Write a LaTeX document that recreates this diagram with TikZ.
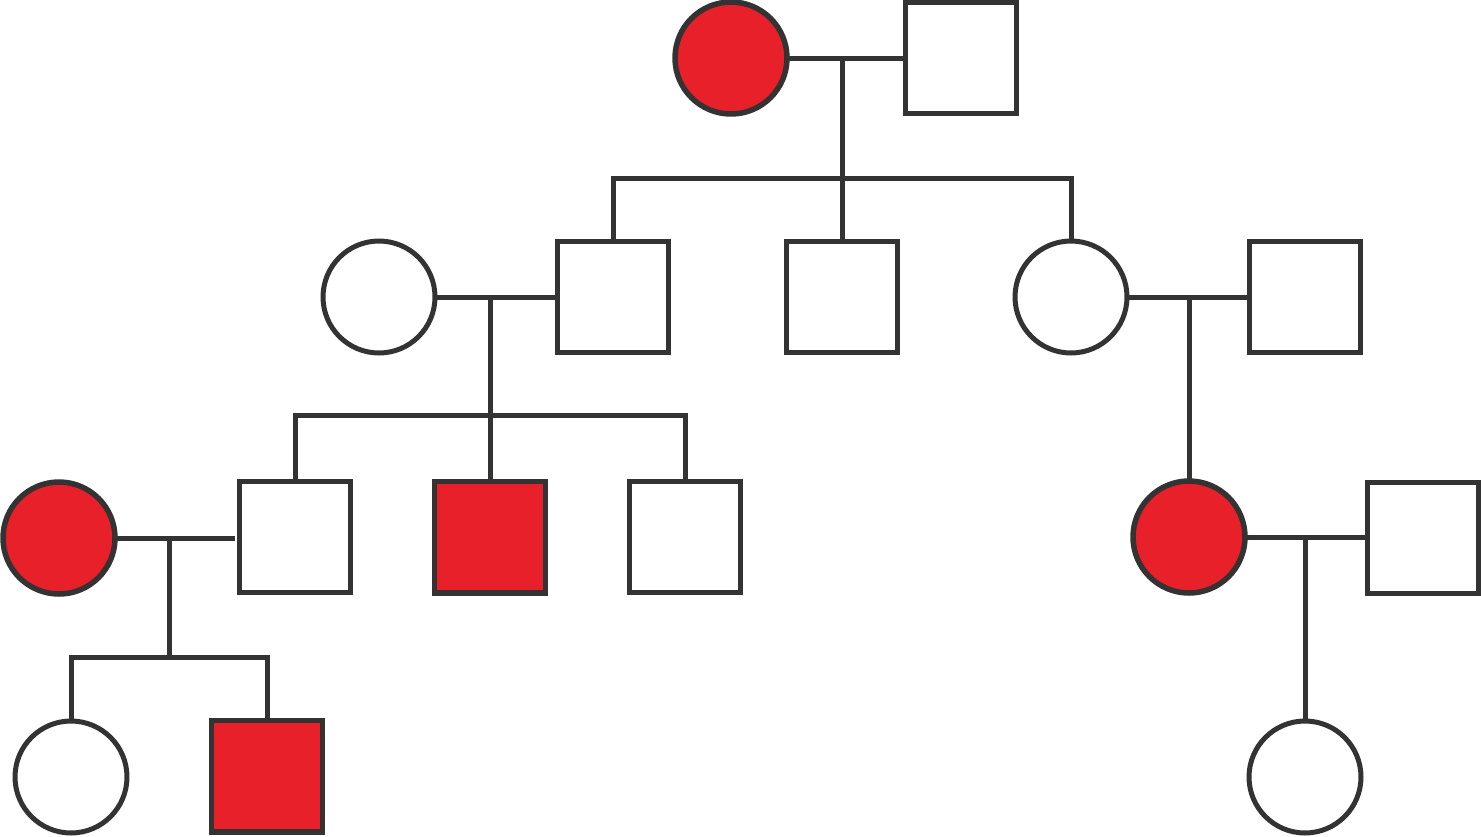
\documentclass[tikz,border=0pt]{standalone}
\definecolor{aff}{RGB}{232,32,42}
\definecolor{ink}{RGB}{51,51,51}
\tikzset{
  base/.style={draw=ink, line width=0.1cm, inner sep=0pt, outer sep=0pt},
  fem/.style={base, circle, minimum size=2.24cm, fill=white},
  mal/.style={base, rectangle, minimum size=2.23cm, fill=white},
  affected/.style={fill=aff, line width=0.11cm},
  link/.style={draw=ink, line width=0.1cm}
}
\begin{document}
\begin{tikzpicture}[x=0.02cm,y=-0.02cm]
\useasboundingbox (0,0) rectangle (1481,836);
% generation 1
\node[fem,affected] (g1f) at (731,58) {};
\node[mal] (g1m) at (961,58) {};
% generation 2
\node[fem] (g2a) at (379,297) {};
\node[mal] (g2b) at (613,297) {};
\node[mal] (g2c) at (842,297) {};
\node[fem] (g2d) at (1071,297) {};
\node[mal] (g2e) at (1305,297) {};
% generation 3
\node[fem,affected] (g3a) at (59,538) {};
\node[mal] (g3b) at (295,537) {};
\node[mal,affected] (g3c) at (490,537) {};
\node[mal] (g3d) at (685,537) {};
\node[fem,affected] (g3e) at (1189,537) {};
\node[mal] (g3f) at (1423,538) {};
% generation 4
\node[fem] (g4a) at (71,777) {};
\node[mal,affected] (g4b) at (267,776) {};
\node[fem] (g4c) at (1305,777) {};
% junction coordinates
\coordinate (m1) at (842,58);
\coordinate (s1) at (842,178);
\coordinate (m2) at (490,297);
\coordinate (s2) at (490,415);
\coordinate (m3) at (1189,297);
\coordinate (m4) at (169,538);
\coordinate (s4) at (169,657);
\coordinate (m5) at (1305,537);
% marriage lines
\draw[link] (g1f.east) -- (g1m.west);
\draw[link] (g2a.east) -- (g2b.west);
\draw[link] (g2d.east) -- (g2e.west);
\draw[link,shorten >=0.08cm] (g3a.east) -- (g3b.west |- g3a.east);
\draw[link] (g3e.east) -- (g3f.west |- g3e.east);
% descent lines
\draw[link] (m1) -- (s1);
\draw[link] (g2b.north) |- (s1) -| (g2d.north);
\draw[link] (s1) -- (g2c.north);
\draw[link] (m2) -- (s2);
\draw[link] (g3b.north) |- (s2) -| (g3d.north);
\draw[link] (s2) -- (g3c.north);
\draw[link] (m3) -- (g3e.north);
\draw[link] (m4) -- (s4);
\draw[link] (g4a.north) |- (s4) -| (g4b.north);
\draw[link] (m5) -- (g4c.north);
\end{tikzpicture}
\end{document}
